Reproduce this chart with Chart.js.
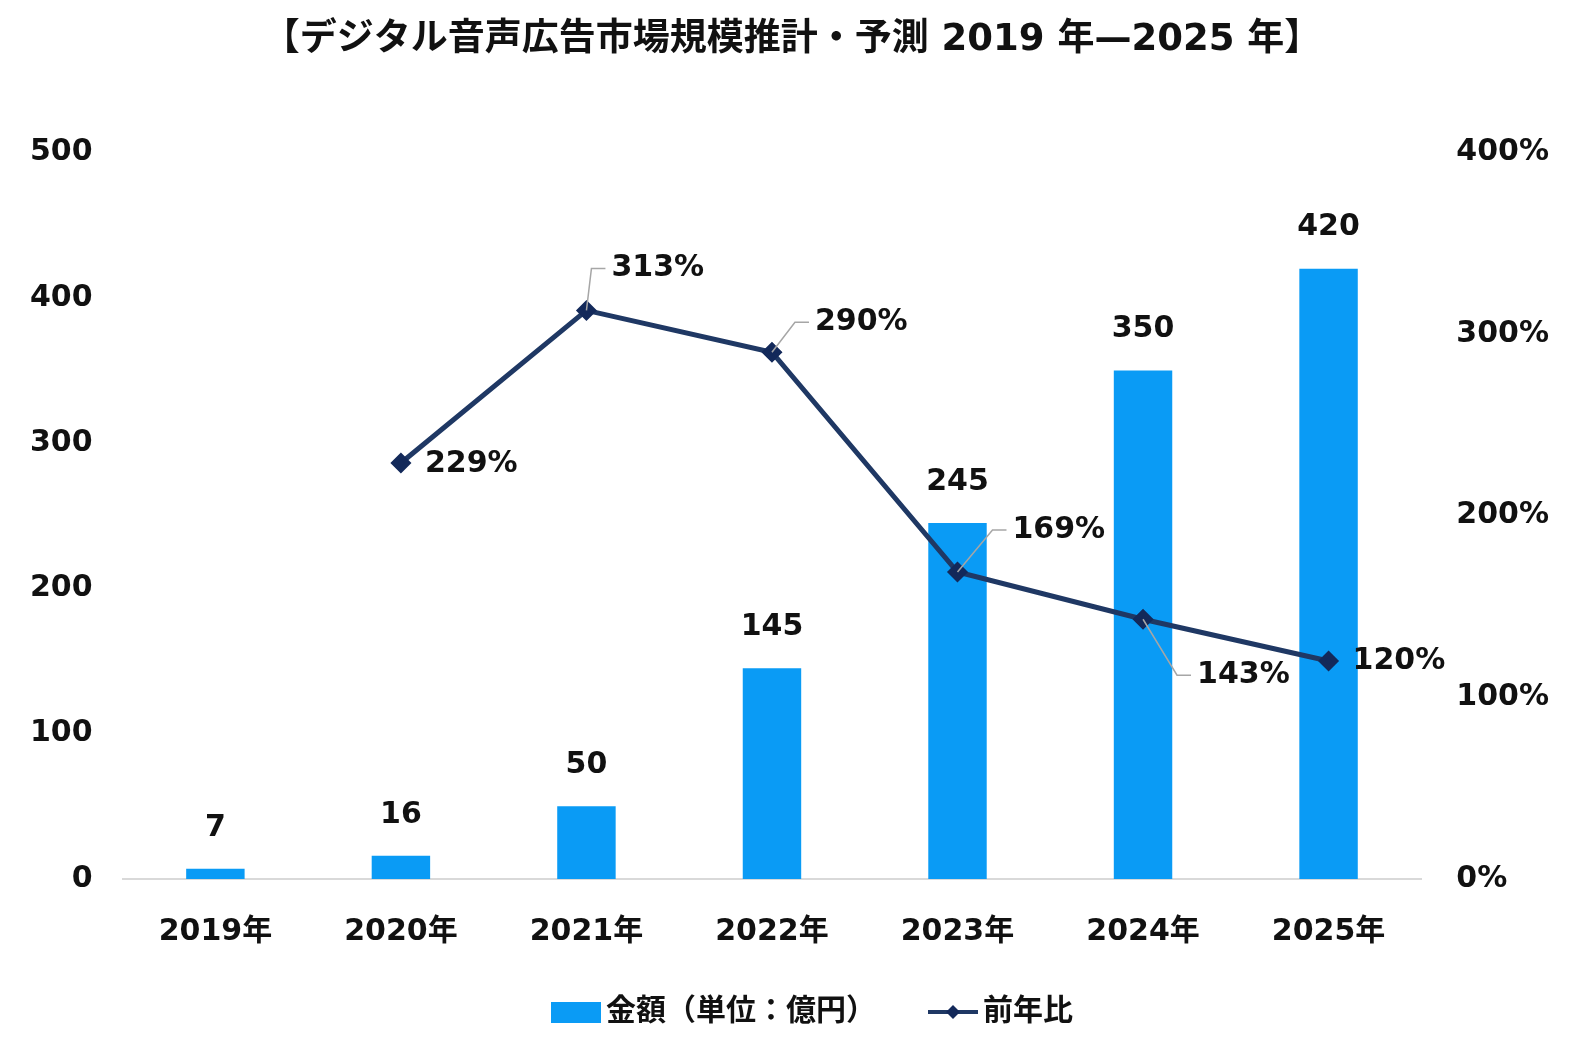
<!DOCTYPE html>
<html>
<head>
<meta charset="utf-8">
<script src="https://cdn.jsdelivr.net/npm/chart.js@4/dist/chart.umd.min.js"></script>
<style>
  html, body { margin: 0; padding: 0; background: #fff; }
  #wrap { width: 1584px; height: 1038px; position: relative; }
</style>
</head>
<body>
<div id="wrap"><canvas id="chart"></canvas></div>
<script>
const years = ['2019年', '2020年', '2021年', '2022年', '2023年', '2024年', '2025年'];
const amounts = [7, 16, 50, 145, 245, 350, 420];          // 金額（単位：億円）
const growth = [null, 229, 313, 290, 169, 143, 120];      // 前年比 (%)
const leftTicks = [0, 100, 200, 300, 400, 500];
const rightTicks = [0, 100, 200, 300, 400];

// 前年比ラベルの位置 (点からのずれ) と引き出し線
const growthLabelOffset = [null, [24, 1], [25, -42], [43, -30], [55, -42], [54, 56], [24, 0]];
const growthLeader = [false, false, true, true, true, true, false];

const FONT = '"DejaVu Sans", "Noto Sans CJK JP", sans-serif';
const BAR_COLOR = '#0A9BF5';
const LINE_COLOR = '#1F3864';
const MARK_COLOR = '#13295A';

// 凡例用のアイコン (右寄せで描き、文字との間を詰める)
const makeIcon = (draw) => {
    const c = document.createElement('canvas');
    c.width = 100; c.height = 24;
    draw(c.getContext('2d'));
    return c;
};
const barIcon = makeIcon((g) => { g.fillStyle = BAR_COLOR; g.fillRect(50, 2, 50, 21); });
const lineIcon = makeIcon((g) => {
    g.strokeStyle = LINE_COLOR; g.lineWidth = 4;
    g.beginPath(); g.moveTo(50, 12); g.lineTo(100, 12); g.stroke();
    g.fillStyle = MARK_COLOR;
    g.beginPath(); g.moveTo(75, 5); g.lineTo(82, 12); g.lineTo(75, 19); g.lineTo(68, 12); g.closePath(); g.fill();
});

const labelPlugin = {
    id: 'valueLabels',
    afterDatasetsDraw(chart) {
        const ctx = chart.ctx;
        ctx.save();
        ctx.font = 'bold 30px ' + FONT;
        ctx.fillStyle = '#111';
        ctx.textBaseline = 'middle';

        // 棒グラフの値
        ctx.textAlign = 'center';
        chart.getDatasetMeta(0).data.forEach((el, i) => {
            ctx.fillText(String(amounts[i]), el.x, el.y - 41);
        });

        // 折れ線の値
        ctx.textAlign = 'left';
        chart.getDatasetMeta(1).data.forEach((el, i) => {
            if (growth[i] == null) return;
            const off = growthLabelOffset[i];
            const tx = el.x + off[0], ty = el.y + off[1];
            if (growthLeader[i]) {
                ctx.strokeStyle = '#a6a6a6';
                ctx.lineWidth = 1.5;
                ctx.beginPath();
                ctx.moveTo(el.x, el.y);
                ctx.lineTo(tx - 20, ty);
                ctx.lineTo(tx - 6, ty);
                ctx.stroke();
            }
            ctx.fillText(growth[i] + '%', tx, ty);
        });
        ctx.restore();
    }
};

new Chart(document.getElementById('chart'), {
    type: 'bar',
    data: {
        labels: years,
        datasets: [{
            type: 'bar',
            label: '金額（単位：億円）',
            data: amounts,
            backgroundColor: BAR_COLOR,
            yAxisID: 'y',
            barPercentage: 0.63,
            categoryPercentage: 0.5,
            order: 1
        }, {
            type: 'line',
            label: '前年比',
            data: growth,
            borderColor: LINE_COLOR,
            borderWidth: 5,
            pointStyle: 'rectRot',
            pointRadius: 7,
            pointBackgroundColor: MARK_COLOR,
            pointBorderColor: MARK_COLOR,
            tension: 0,
            yAxisID: 'y1',
            order: 0
        }]
    },
    options: {
        responsive: true,
        maintainAspectRatio: false,
        animation: false,
        layout: { padding: { left: 0, right: 0, top: 0, bottom: 1 } },
        plugins: {
            title: {
                display: true,
                text: '【デジタル音声広告市場規模推計・予測 2019 年—2025 年】',
                color: '#111',
                font: { family: FONT, size: 37, weight: 'bold' },
                padding: { top: 18, bottom: 90 }
            },
            legend: {
                position: 'bottom',
                labels: {
                    usePointStyle: true,
                    pointStyleWidth: 80,
                    boxHeight: 24,
                    padding: 12,
                    color: '#111',
                    font: { family: FONT, size: 30, weight: 'bold' },
                    generateLabels: (chart) => chart.data.datasets.map((ds, i) => ({
                        text: ds.label,
                        pointStyle: i === 0 ? barIcon : lineIcon,
                        fontColor: '#111',
                        lineWidth: 0,
                        datasetIndex: i
                    }))
                }
            },
            tooltip: { enabled: false }
        },
        scales: {
            x: {
                grid: { display: false, drawTicks: false },
                border: { display: true, color: '#d9d9d9', width: 2 },
                ticks: { color: '#111', padding: 35, font: { family: FONT, size: 30, weight: 'bold' } }
            },
            y: {
                position: 'left',
                min: 0,
                max: 500,
                afterBuildTicks: (axis) => { axis.ticks = leftTicks.map(v => ({ value: v })); },
                grid: { display: false, drawTicks: false },
                border: { display: false },
                ticks: { color: '#111', padding: 30, font: { family: FONT, size: 30, weight: 'bold' } }
            },
            y1: {
                position: 'right',
                min: 0,
                max: 400,
                afterBuildTicks: (axis) => { axis.ticks = rightTicks.map(v => ({ value: v })); },
                grid: { display: false, drawTicks: false },
                border: { display: false },
                ticks: {
                    color: '#111', padding: 35,
                    font: { family: FONT, size: 30, weight: 'bold' },
                    callback: (v) => v + '%'
                }
            }
        }
    },
    plugins: [labelPlugin]
});
</script>
</body>
</html>
